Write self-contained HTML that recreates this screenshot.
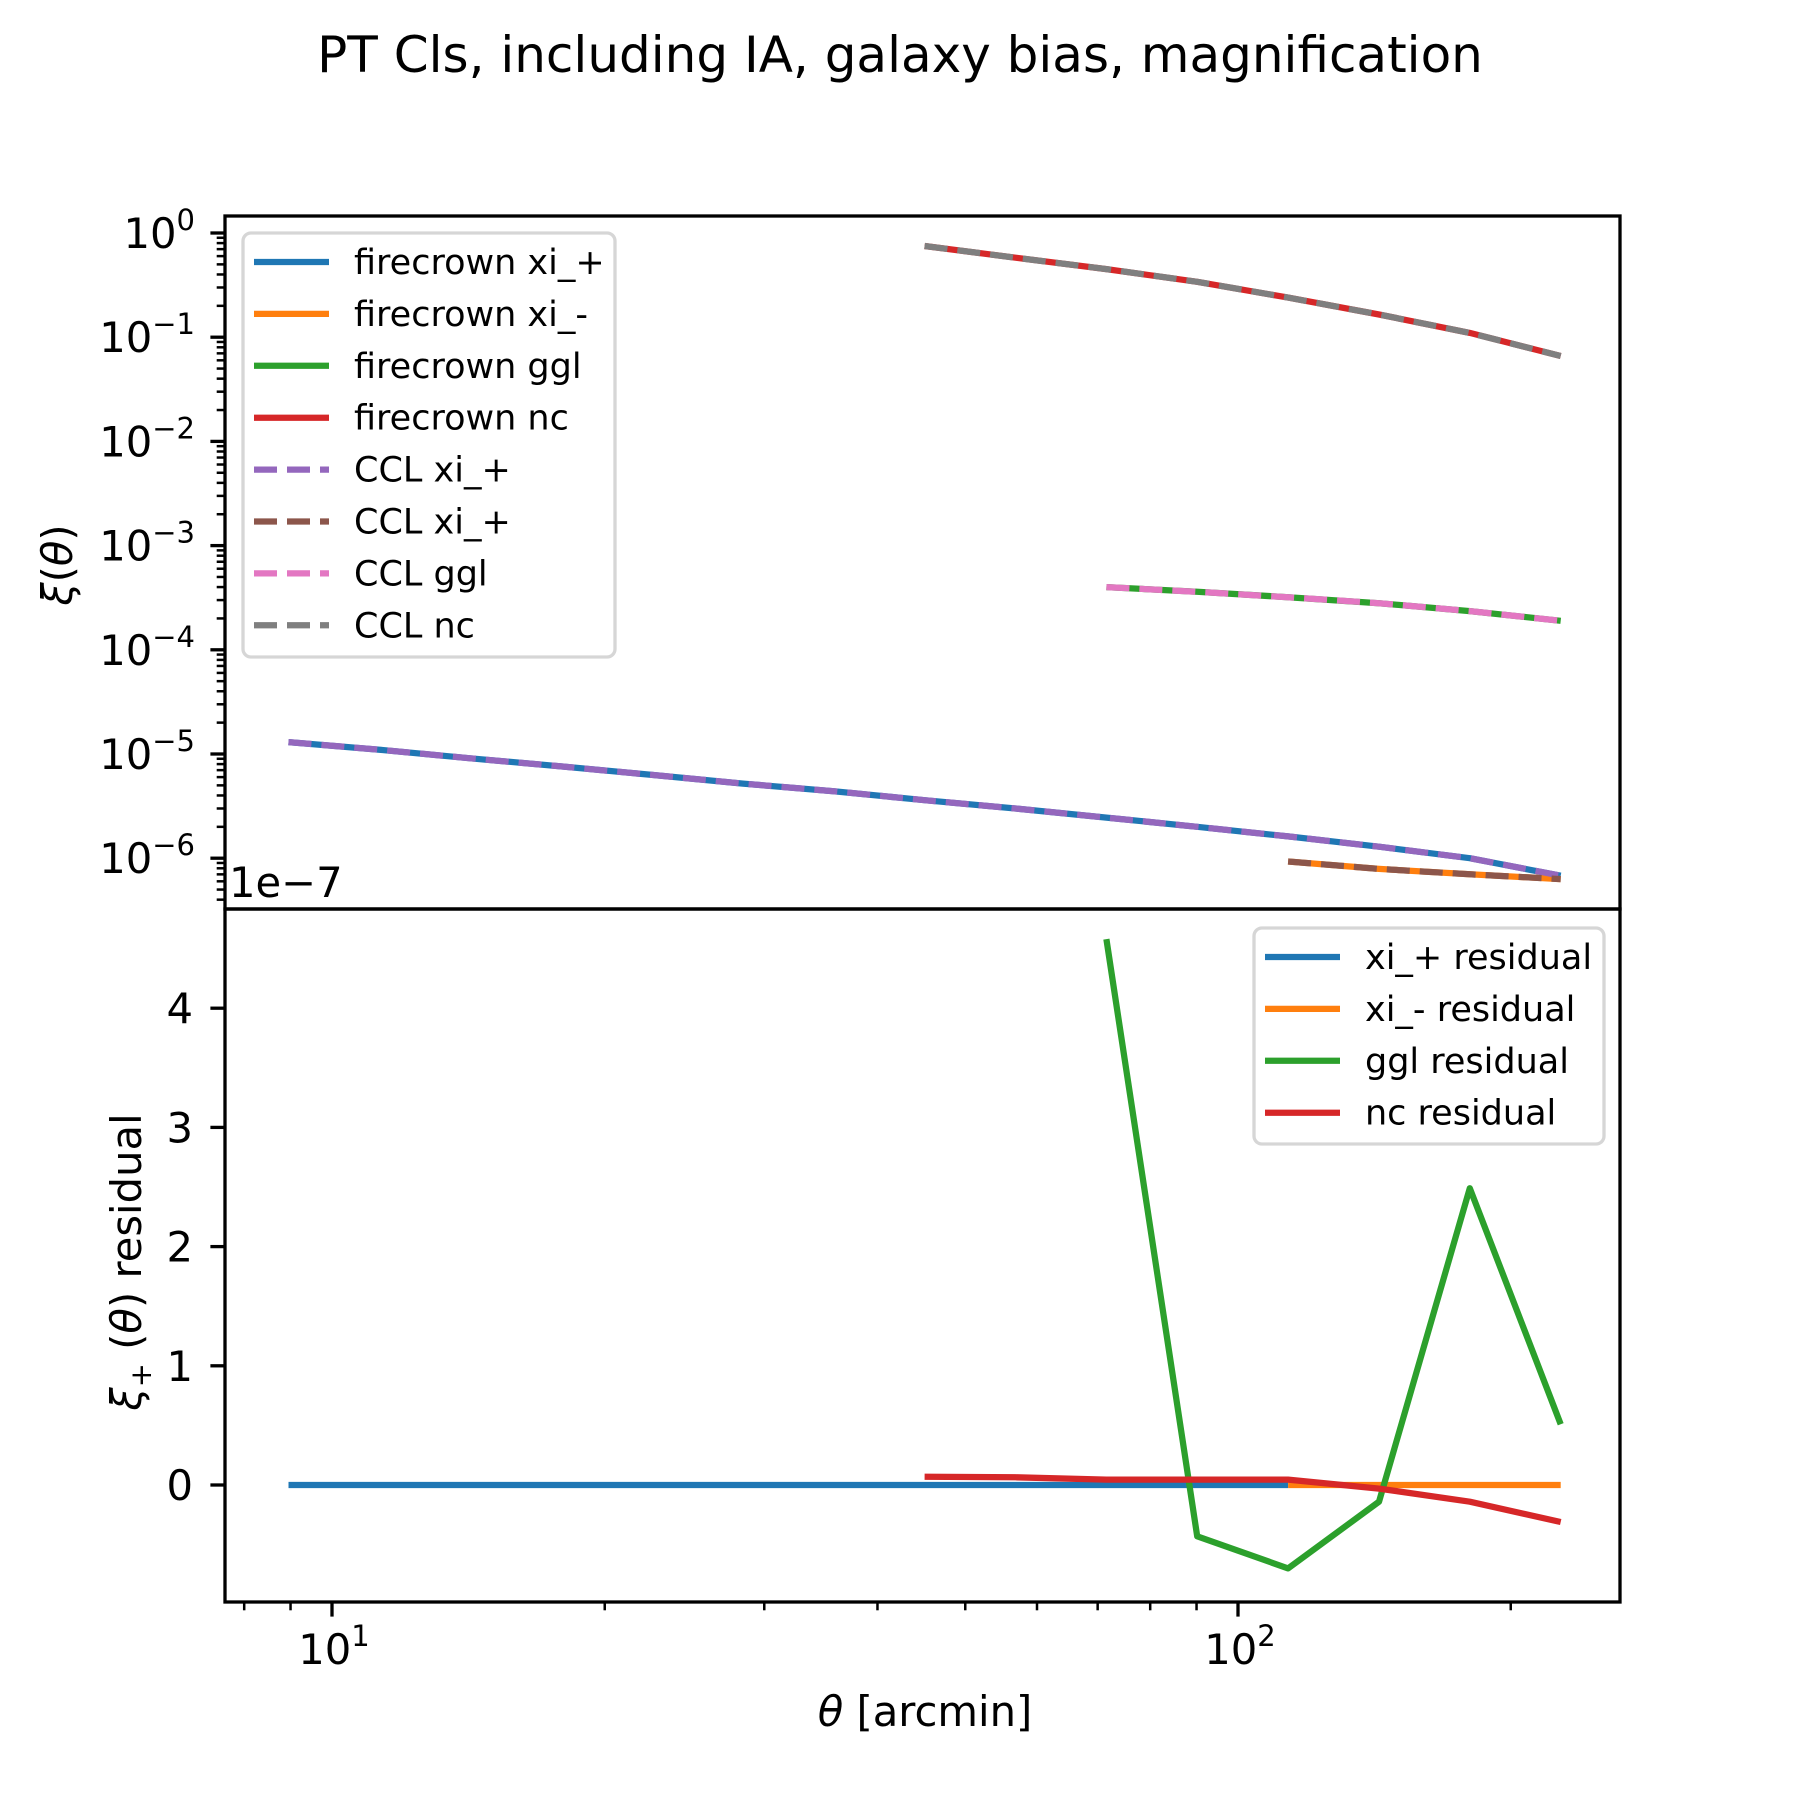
<!DOCTYPE html>
<html><head><meta charset="utf-8"><style>
html,body{margin:0;padding:0;background:#fff}
svg text{font-family:"DejaVu Sans","Liberation Sans",sans-serif;fill:#000}
</style></head><body>
<svg id="fig" width="1800" height="1800" viewBox="0 0 1800 1800" xmlns="http://www.w3.org/2000/svg">
<rect width="1800" height="1800" fill="#fff"/>
<text x="900" y="72" font-size="50" text-anchor="middle">PT Cls, including IA, galaxy bias, magnification</text>
<g id="g"></g>
</svg>
<script>
// data
const logThetaStart = 0.952;
const thetaStep = 0.1003;
const thetaCount = 15;
const xiPlus = [1.3e-5,1.1e-5,9.1e-6,7.6e-6,6.3e-6,5.2e-6,4.4e-6,3.6e-6,3.0e-6,2.45e-6,2.0e-6,1.62e-6,1.29e-6,1.0e-6,6.8e-7];
const xiMinus = [9.3e-7,7.9e-7,7.0e-7,6.3e-7];      // k=11..14
const ggl = [4.0e-4,3.6e-4,3.2e-4,2.8e-4,2.35e-4,1.9e-4]; // k=9..14
const nc = [0.75,0.58,0.45,0.34,0.24,0.165,0.11,0.066]; // k=7..14
const resPlus = [0,0,0,0,0,0,0,0,0,0,0,0];           // k=0..11
const resMinus = [0,0,0,0];                          // k=11..14
const resGgl = [4.58,-0.43,-0.70,-0.14,2.49,0.51];   // k=9..14
const resNc = [0.07,0.065,0.045,0.045,0.045,-0.03,-0.14,-0.31]; // k=7..14
const topTickLabels = ["0","−1","−2","−3","−4","−5","−6"];
const botTickLabels = ["0","1","2","3","4"];
const xTickLabels = ["1","2"];

const thetas = [];
for (let k=0;k<thetaCount;k++) thetas.push(Math.pow(10, logThetaStart + thetaStep*k));

const L=225,R=1620,T=216,M=909,B=1602;
const xLog0=1, xPix0=332, xDec=906;
function X(t){return xPix0 + (Math.log10(t)-xLog0)*xDec;}
function YT(v){return 233 - Math.log10(v)*104.2;}
function YB(v){return 1485 - v*119.2;}

const NS="http://www.w3.org/2000/svg";
const g=document.getElementById('g');
function el(tag,attrs,parent){const e=document.createElementNS(NS,tag);for(const k in attrs)e.setAttribute(k,attrs[k]);(parent||g).appendChild(e);return e;}

const C={blue:'#1f77b4',orange:'#ff7f0e',green:'#2ca02c',red:'#d62728',purple:'#9467bd',brown:'#8c564b',pink:'#e377c2',gray:'#7f7f7f'};
const clipT=el('clipPath',{id:'ct'});el('rect',{x:L,y:T,width:R-L,height:M-T},clipT);
const clipB=el('clipPath',{id:'cb'});el('rect',{x:L,y:M,width:R-L,height:B-M},clipB);

function series(vals,start,yf,color,dash,clip,name){
  const pts=vals.map((v,i)=>X(thetas[start+i]).toFixed(1)+','+yf(v).toFixed(1)).join(' ');
  const p=el('polyline',{points:pts,fill:'none',stroke:color,'stroke-width':6.25,'stroke-linejoin':'round','clip-path':'url(#'+clip+')'});
  if(dash)p.setAttribute('stroke-dasharray','23 10');
  
  
}
series(xiPlus,0,YT,C.blue,false,'ct','line-firecrown-xi-plus');
series(xiMinus,11,YT,C.orange,false,'ct','line-firecrown-xi-minus');
series(ggl,9,YT,C.green,false,'ct','line-firecrown-ggl');
series(nc,7,YT,C.red,false,'ct','line-firecrown-nc');
series(xiPlus,0,YT,C.purple,true,'ct','line-ccl-xi-plus');
series(xiMinus,11,YT,C.brown,true,'ct','line-ccl-xi-minus');
series(ggl,9,YT,C.pink,true,'ct','line-ccl-ggl');
series(nc,7,YT,C.gray,true,'ct','line-ccl-nc');
series(resPlus,0,YB,C.blue,false,'cb','line-xi-plus-residual');
series(resMinus,11,YB,C.orange,false,'cb','line-xi-minus-residual');
series(resGgl,9,YB,C.green,false,'cb','line-ggl-residual');
series(resNc,7,YB,C.red,false,'cb','line-nc-residual');

// axes frames
const f1=el('rect',{x:L,y:T,width:R-L,height:M-T,fill:'none',stroke:'#000','stroke-width':3.3});

const f2=el('rect',{x:L,y:M,width:R-L,height:B-M,fill:'none',stroke:'#000','stroke-width':3.3});


// top y ticks
topTickLabels.forEach((lab,i)=>{
  const y=YT(Math.pow(10,-i));
  el('line',{x1:L-14.6,x2:L,y1:y,y2:y,stroke:'#000','stroke-width':3.3});
  const t=el('text',{x:195,y:y+15,'font-size':41.7,'text-anchor':'end'});
  
  
  t.innerHTML='10<tspan font-size="29" dy="-18">'+lab+'</tspan>';
  for(let m=2;m<=9;m++){
    const ym=YT(Math.pow(10,-i-1)*m);
    if(ym>T&&ym<M) el('line',{x1:L-8.3,x2:L,y1:ym,y2:ym,stroke:'#000','stroke-width':2.5});
  }
});
// bottom y ticks
botTickLabels.forEach((lab)=>{
  const y=YB(+lab);
  el('line',{x1:L-14.6,x2:L,y1:y,y2:y,stroke:'#000','stroke-width':3.3});
  const t=el('text',{x:193,y:y+15,'font-size':41.7,'text-anchor':'end'});
  
  
  t.textContent=lab;
});
// x ticks
xTickLabels.forEach((lab)=>{
  const x=X(Math.pow(10,+lab));
  el('line',{x1:x,x2:x,y1:B,y2:B+14.6,stroke:'#000','stroke-width':3.3});
  const t=el('text',{x:x+2,y:B+62,'font-size':41.7,'text-anchor':'middle'});
  
  
  t.innerHTML='10<tspan font-size="29" dy="-18">'+lab+'</tspan>';
});
for(let d=0;d<3;d++)for(let m=1;m<=9;m++){
  const x=X(m*Math.pow(10,d));
  if(m>1&&x>L&&x<R) el('line',{x1:x,x2:x,y1:B,y2:B+8.3,stroke:'#000','stroke-width':2.5});
}
// offset text
const off=el('text',{x:229,y:897,'font-size':41.7});

off.textContent='1e−7';

// axis labels
const yl1=el('text',{x:0,y:0,'font-size':41.7,'text-anchor':'middle',transform:'translate(72,565) rotate(-90)'});

yl1.innerHTML='<tspan font-style="italic">ξ</tspan>(<tspan font-style="italic">θ</tspan>)';
const yl2=el('text',{x:0,y:0,'font-size':41.7,'text-anchor':'middle',transform:'translate(141,1262) rotate(-90)'});

yl2.innerHTML='<tspan font-style="italic">ξ</tspan><tspan font-size="29" dy="10">+</tspan><tspan dy="-10"> (</tspan><tspan font-style="italic">θ</tspan>) residual';
const xl=el('text',{x:925,y:1726,'font-size':41.7,'text-anchor':'middle'});

xl.innerHTML='<tspan font-style="italic">θ</tspan> [arcmin]';

// legends
function legend(x0,y0,w,h,rows,name){
  const box=el('rect',{x:x0,y:y0,width:w,height:h,rx:8,fill:'#fff','fill-opacity':0.8,stroke:'#d6d6d6','stroke-width':3.3});
  
  
  rows.forEach((r,i)=>{
    const y=y0+29+i*51.9;
    const ln=el('line',{x1:x0+11,x2:x0+86,y1:y,y2:y,stroke:r[1],'stroke-width':6.25});
    if(r[2])ln.setAttribute('stroke-dasharray','23 10');
    const t=el('text',{x:x0+111,y:y+12,'font-size':35});
    
    
    t.textContent=r[0];
  });
}
legend(243,233,372,424,[['firecrown xi_+',C.blue],['firecrown xi_-',C.orange],['firecrown ggl',C.green],['firecrown nc',C.red],['CCL xi_+',C.purple,1],['CCL xi_+',C.brown,1],['CCL ggl',C.pink,1],['CCL nc',C.gray,1]],'top-legend');
legend(1254,928,350,216,[['xi_+ residual',C.blue],['xi_- residual',C.orange],['ggl residual',C.green],['nc residual',C.red]],'bottom-legend');
</script>
</body></html>
